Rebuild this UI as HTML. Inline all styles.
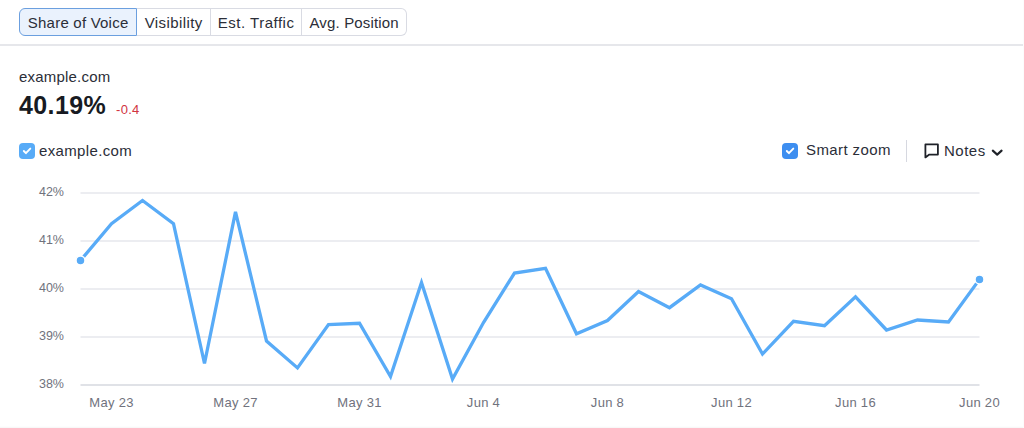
<!DOCTYPE html>
<html><head><meta charset="utf-8">
<style>
html,body{margin:0;padding:0;background:#fff;width:1024px;height:428px;overflow:hidden;position:relative;font-family:"Liberation Sans",sans-serif;color:#2b2e38}
.abs{position:absolute;white-space:nowrap}
.tabs{position:absolute;left:19px;top:8px;height:28px;display:flex;box-sizing:border-box}
.tab{height:28px;box-sizing:border-box;border:1px solid #d9dbe3;border-left:none;font-size:15px;line-height:27px;padding:0;text-align:center;color:#2b2e38;letter-spacing:0.3px;text-indent:0.3px}
.tab.first{border:1px solid #6b9fdf;background:#eaf2fd;border-radius:6px 0 0 6px}
.tab.last{border-radius:0 6px 6px 0}
.hr{position:absolute;left:0;top:44px;width:1024px;height:2px;background:#e6e7eb}
.cb{position:absolute;width:16px;height:16px;border-radius:4px}
.lbl{font-size:13px;color:#6c6e79}
</style></head><body>
<div class="tabs">
  <div class="tab first" style="width:118px;letter-spacing:0.22px">Share of Voice</div>
  <div class="tab" style="width:74px;letter-spacing:0.4px">Visibility</div>
  <div class="tab" style="width:91px;letter-spacing:0.5px">Est. Traffic</div>
  <div class="tab last" style="width:105px;letter-spacing:0.17px">Avg. Position</div>
</div>
<div class="hr"></div>

<div class="abs" style="left:19px;top:68px;font-size:15px;line-height:18px;color:#2b2e38;letter-spacing:0.2px">example.com</div>
<div class="abs" style="left:19px;top:91px;font-size:25px;line-height:28px;font-weight:bold;color:#171a22;letter-spacing:0.4px">40.19%</div>
<div class="abs" style="left:116px;top:102.5px;font-size:13px;line-height:14px;color:#d1343f;letter-spacing:0.3px">-0.4</div>

<div class="cb" style="left:19px;top:143px;background:#58abf7">
  <svg width="16" height="16" viewBox="0 0 16 16"><path d="M4.8 8 L6.9 10.2 L11.3 5.6" fill="none" stroke="#fff" stroke-width="1.9" stroke-linecap="round" stroke-linejoin="round"/></svg>
</div>
<div class="abs" style="left:39px;top:141.5px;font-size:15px;line-height:18px;color:#2b2e38;letter-spacing:0.35px">example.com</div>

<div class="cb" style="left:782px;top:143px;background:#3d8ef0">
  <svg width="16" height="16" viewBox="0 0 16 16"><path d="M4.8 8 L6.9 10.2 L11.3 5.6" fill="none" stroke="#fff" stroke-width="1.9" stroke-linecap="round" stroke-linejoin="round"/></svg>
</div>
<div class="abs" style="left:806px;top:141.3px;font-size:15px;line-height:18px;color:#2b2e38;letter-spacing:0.4px">Smart zoom</div>
<div class="abs" style="left:906px;top:140px;width:1px;height:22px;background:#d6d8e0"></div>
<svg class="abs" style="left:922px;top:141px" width="20" height="20" viewBox="0 0 20 20">
  <path d="M3.4 3.4 H15.9 V13.6 H7.3 L3.4 16.4 Z" fill="none" stroke="#1f2229" stroke-width="1.8" stroke-linejoin="round"/>
</svg>
<div class="abs" style="left:944px;top:142px;font-size:15px;line-height:18px;color:#2b2e38;letter-spacing:0.5px">Notes</div>
<svg class="abs" style="left:990px;top:146px" width="14" height="12" viewBox="0 0 14 12">
  <path d="M2.8 4.6 L7.2 8.6 L11.6 4.6" fill="none" stroke="#1f2229" stroke-width="2.1" stroke-linecap="round" stroke-linejoin="round"/>
</svg>

<!-- chart -->
<svg class="abs" style="left:0;top:0" width="1024" height="428" viewBox="0 0 1024 428">
  <g stroke="#e6e7ec" stroke-width="1.5">
    <line x1="80.5" y1="193" x2="979.5" y2="193"/>
    <line x1="80.5" y1="241" x2="979.5" y2="241"/>
    <line x1="80.5" y1="289" x2="979.5" y2="289"/>
    <line x1="80.5" y1="337" x2="979.5" y2="337"/>
  </g>
  <line x1="80.5" y1="385" x2="979.5" y2="385" stroke="#d6d8df" stroke-width="1.5"/>
  <polyline fill="none" stroke="#58abf7" stroke-width="3.3" stroke-linejoin="miter" stroke-linecap="round" points="80.5,260.5 111.5,223.75 142.5,200.5 173.5,223.75 204.5,363.5 235.5,211.9 266.5,341 297.5,367.9 328.5,324.5 359.5,323.25 390.5,376.6 421.5,282.6 452.5,379.1 483.5,322.5 514.5,273 545.5,268.25 576.5,333.75 607.5,320.5 638.5,291.5 669.5,307.7 700.5,285 731.5,298.75 762.5,354 793.5,321.25 824.5,325.7 855.5,296.75 886.5,330 917.5,320 948.5,322 979.5,279.4"/>
  <circle cx="80.5" cy="260.5" r="4.5" fill="#58abf7" stroke="#fff" stroke-width="1.5"/>
  <circle cx="979.5" cy="279.4" r="4.5" fill="#58abf7" stroke="#fff" stroke-width="1.5"/>
  <g font-family="Liberation Sans" font-size="12.5" fill="#70727d" text-anchor="end">
    <text x="64" y="195.8">42%</text>
    <text x="64" y="243.8">41%</text>
    <text x="64" y="291.8">40%</text>
    <text x="64" y="339.8">39%</text>
    <text x="64" y="387.8">38%</text>
  </g>
  <g font-family="Liberation Sans" font-size="13" fill="#70727d" text-anchor="middle" letter-spacing="0.3">
    <text x="111.5" y="406.8">May 23</text>
    <text x="235.5" y="406.8">May 27</text>
    <text x="359.5" y="406.8">May 31</text>
    <text x="483.5" y="406.8">Jun 4</text>
    <text x="607.5" y="406.8">Jun 8</text>
    <text x="731.5" y="406.8">Jun 12</text>
    <text x="855.5" y="406.8">Jun 16</text>
    <text x="979.5" y="406.8">Jun 20</text>
  </g>
</svg>
<div class="abs" style="left:0;top:426px;width:1024px;height:1px;background:#fdfdfd"></div>
<div class="abs" style="left:0;top:427px;width:1024px;height:1px;background:#f8f8f8"></div>
<div class="abs" style="left:1023px;top:0;width:1px;height:428px;background:#fcfcfc"></div>
</body></html>
